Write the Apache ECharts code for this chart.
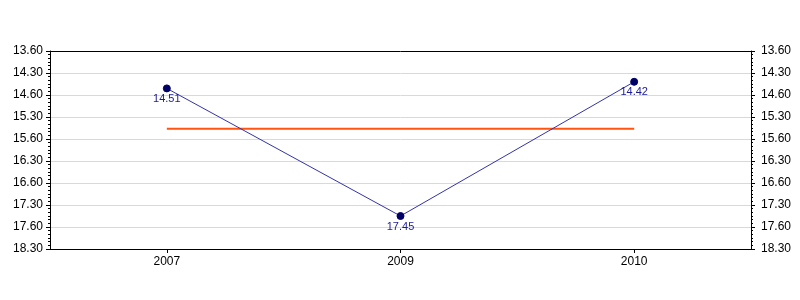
<!DOCTYPE html>
<html>
<head>
<meta charset="utf-8">
<script src="https://cdn.jsdelivr.net/npm/echarts@6/dist/echarts.min.js"></script>
<style>html,body{margin:0;padding:0;background:#fff}#c{width:800px;height:300px}</style>
</head>
<body>
<div id="c"></div>
<script>
// Data (times written as minutes.seconds)
const categories = ['2007', '2009', '2010'];
const times = ['14.51', '17.45', '14.42'];
const averageTime = ['15.46', '15.46', '15.46'];
// Axis range in seconds (14:00 .. 18:30, step 30 s)
const axisMin = 840, axisMax = 1110, axisStep = 30;

function toSec(t) { const p = t.split('.'); return (+p[0]) * 60 + (+p[1]); }
function fmtTime(v) { const m = Math.floor(v / 60), s = Math.round(v - m * 60); return m + '.' + String(s).padStart(2, '0'); }
function fmtTick(v) { const m = Math.ceil(v / 60) - 1, s = Math.round(v - m * 60); return m + '.' + String(s).padStart(2, '0'); }

const values = times.map(toSec);
const avgValues = averageTime.map(toSec);

const font = 'Liberation Sans, Arial, sans-serif';
const yBase = {
  type: 'value', inverse: true, min: axisMin, max: axisMax, interval: axisStep,
  axisLine: { show: true, lineStyle: { color: '#000', width: 1 } },
  axisTick: { show: true, length: 4, lineStyle: { color: '#000' } },
  minorTick: { show: true, splitNumber: 6, length: 2, lineStyle: { color: '#000' } },
  axisLabel: { formatter: fmtTick, color: '#000', fontSize: 12, fontFamily: font, margin: 7 }
};

const chart = echarts.init(document.getElementById('c'), null, { renderer: 'canvas' });
chart.setOption({
  animation: false,
  backgroundColor: '#fff',
  grid: { left: 50, right: 49, top: 51, bottom: 51 },
  xAxis: [
    {
      type: 'category', data: categories, boundaryGap: true,
      axisLine: { lineStyle: { color: '#000', width: 1 } },
      axisTick: { show: true, alignWithLabel: true, length: 4, lineStyle: { color: '#000' } },
      axisLabel: { color: '#000', fontSize: 12, fontFamily: font, margin: 7 },
      splitLine: { show: false }
    },
    {
      type: 'category', data: categories, position: 'top', z: 10,
      axisLine: { show: true, lineStyle: { color: '#000', width: 1 } },
      axisTick: { show: false }, axisLabel: { show: false }, splitLine: { show: false }
    }
  ],
  yAxis: [
    Object.assign({}, yBase, { position: 'left', splitLine: { show: true, lineStyle: { color: '#d9d9d9', width: 1 } } }),
    Object.assign({}, yBase, { position: 'right', splitLine: { show: false }, axisLabel: Object.assign({}, yBase.axisLabel, { margin: 10 }) })
  ],
  series: [
    {
      type: 'line', data: avgValues, yAxisIndex: 0, symbol: 'none',
      lineStyle: { color: '#ff5511', width: 2 }, z: 2, silent: true
    },
    {
      type: 'line', data: values, yAxisIndex: 0,
      symbol: 'circle', symbolSize: 7,
      itemStyle: { color: '#000066', borderColor: '#000066' },
      lineStyle: { color: '#3333aa', width: 1 },
      label: { show: true, position: 'bottom', distance: 1, color: '#1a1a99', fontSize: 11, fontFamily: font,
        formatter: p => fmtTime(p.value) },
      z: 3
    }
  ]
});
</script>
</body>
</html>
